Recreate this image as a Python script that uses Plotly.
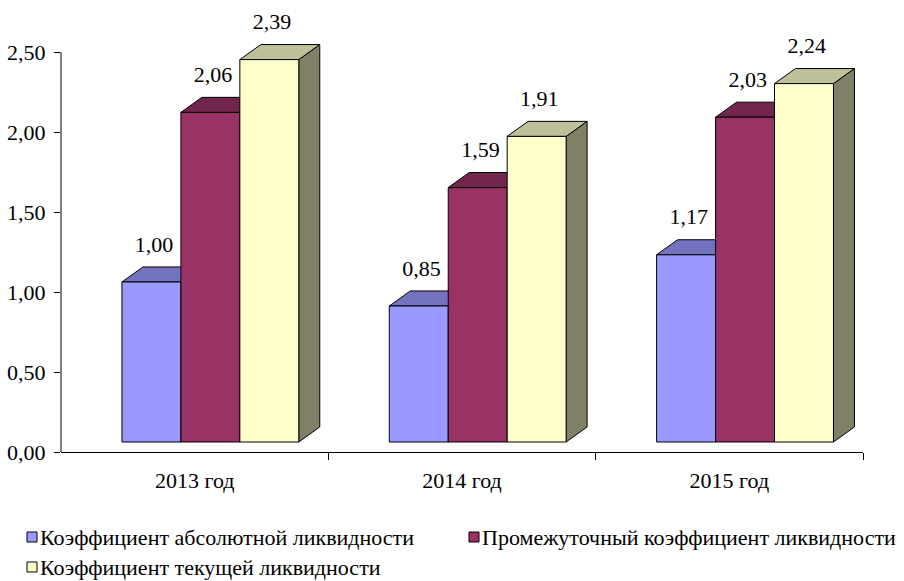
import plotly.graph_objects as go

# ---- data ----
categories = ["2013 год", "2014 год", "2015 год"]
series_names = [
    "Коэффициент абсолютной ликвидности",
    "Промежуточный коэффициент ликвидности",
    "Коэффициент текущей ликвидности",
]
abs_liq = [1.00, 0.85, 1.17]
inter_liq = [2.06, 1.59, 2.03]
cur_liq = [2.39, 1.91, 2.24]
y_ticks = [0, 0.5, 1.0, 1.5, 2.0, 2.5]

series_values = [abs_liq, inter_liq, cur_liq]

# ---- style ----
front_colors = ["#9999FF", "#993366", "#FFFFCC"]
top_colors = ["#7373BF", "#73264D", "#BFBF99"]
side_colors = ["#4D4D80", "#4D1A33", "#808066"]
FONT = "Liberation Serif"

GAP = 0.228      # offset of first bar inside category slot
BAR_W = 0.2205   # bar width (category units)
DX = 0.0785      # 3D depth, x
DY = 0.094       # 3D depth, y
BASE = 0.0625    # front face base lift
YMAX = 2.8

L, R, T, B = 61, 41, 4, 129
W, H = 904, 581
PW, PH = W - L - R, H - T - B

fig = go.Figure()

def poly(xs, ys, color):
    fig.add_trace(go.Scatter(
        x=xs, y=ys, mode="lines", fill="toself", fillcolor=color,
        line=dict(color="black", width=1), hoverinfo="skip", showlegend=False))

lab_x, lab_y, lab_t = [], [], []
for i, cat in enumerate(categories):
    for s, vals in enumerate(series_values):
        v = vals[i]
        x0 = i + GAP + s * BAR_W
        x1 = x0 + BAR_W
        yb = BASE
        yt = BASE + v
        poly([x1, x1 + DX, x1 + DX, x1, x1], [yb, yb + DY, yt + DY, yt, yb], side_colors[s])
        poly([x0, x1, x1 + DX, x0 + DX, x0], [yt, yt, yt + DY, yt + DY, yt], top_colors[s])
        poly([x0, x1, x1, x0, x0], [yb, yb, yt, yt, yb], front_colors[s])
        lab_x.append(x0 + BAR_W / 2 + 0.01)
        lab_y.append(yt + DY + 0.13)
        lab_t.append(f"{v:.2f}".replace(".", ","))

fig.add_trace(go.Scatter(
    x=lab_x, y=lab_y, text=lab_t, mode="text", textposition="middle center",
    textfont=dict(family=FONT, size=22, color="black"),
    hoverinfo="skip", showlegend=False, cliponaxis=False))

# y axis line (only up to 2.50)
fig.add_shape(type="line", xref="paper", yref="y", x0=0, x1=0, y0=0, y1=max(y_ticks),
              line=dict(color="black", width=1))

# manual legend
def px2paper(px, py):
    return (px - L) / PW, (H - B - py) / PH

legend_pos = [(27, 537), (469, 537), (27, 567)]
for s, name in enumerate(series_names):
    mx, my = legend_pos[s]
    ax0, ay0 = px2paper(mx, my - 5)
    ax1, ay1 = px2paper(mx + 10, my + 5)
    fig.add_shape(type="rect", xref="paper", yref="paper", x0=ax0, x1=ax1, y0=ay1, y1=ay0,
                  fillcolor=front_colors[s], line=dict(color="black", width=1))
    tx, ty = px2paper(mx + 11, my)
    fig.add_annotation(xref="paper", yref="paper", x=tx, y=ty, text=name, showarrow=False,
                       xanchor="left", yanchor="middle",
                       font=dict(family=FONT, size=22, color="black"))

fig.update_layout(
    width=W, height=H,
    margin=dict(l=L, r=R, t=T, b=B),
    plot_bgcolor="white", paper_bgcolor="white",
    separators=", ",
    showlegend=False,
    xaxis=dict(
        range=[0, len(categories)], tickmode="array",
        tickvals=[i + 0.5 for i in range(len(categories))], ticktext=categories,
        ticks="", showgrid=False, zeroline=False,
        showline=True, linecolor="black", linewidth=1,
        tickfont=dict(family=FONT, size=22, color="black"),
        ticklabelstandoff=9,
        minor=dict(tickmode="array", tickvals=list(range(1, len(categories) + 1)),
                   ticks="outside", ticklen=7, tickcolor="black", showgrid=False),
        fixedrange=True,
    ),
    yaxis=dict(
        range=[0, YMAX], tickmode="array", tickvals=y_ticks, tickformat=".2f",
        ticks="outside", ticklen=6, tickcolor="black",
        showgrid=False, zeroline=False, showline=False,
        tickfont=dict(family=FONT, size=22, color="black"),
        ticklabelstandoff=4,
        fixedrange=True,
    ),
)

fig.write_html("out.html")
